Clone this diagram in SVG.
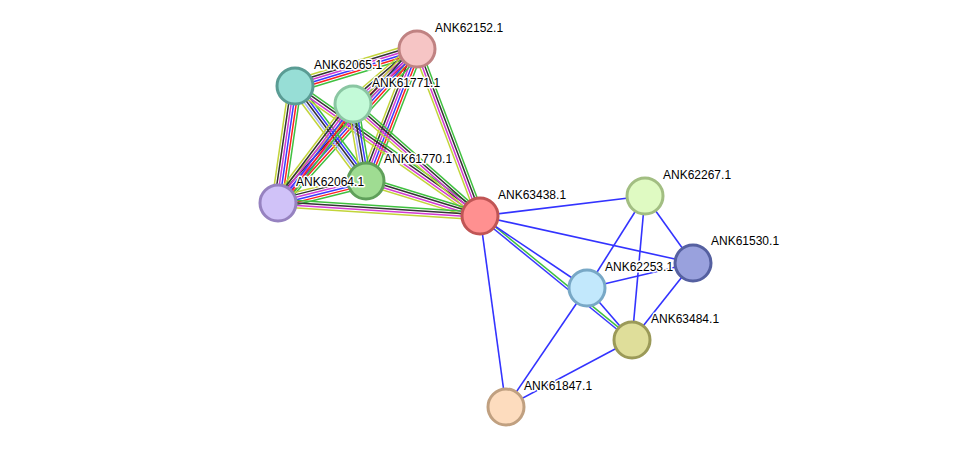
<svg xmlns="http://www.w3.org/2000/svg" width="975" height="453" viewBox="0 0 975 453">
<style>
line{stroke-width:1.5;fill:none}
.g{stroke:#3fc03f}.r{stroke:#ff2020}.b{stroke:#3a3aff}.k{stroke:#333}.m{stroke:#d23ad2}.y{stroke:#c2d43a}.lb{stroke:#a6b0ff}
.s line{stroke:#3333ff;stroke-width:1.6}
.n circle{stroke-width:3}
text{font-family:"Liberation Sans",Arial,sans-serif;font-size:12px;fill:#000;stroke:#fff;stroke-width:3;stroke-linejoin:round;paint-order:stroke}
</style>
<rect width="975" height="453" fill="#fff"/>
<g id="connectors">
<!-- 62152-62065 -->
<g transform="translate(417 49) rotate(163.13)"><line class="g" x2="127.5" y1="-6.25" y2="-6.25"/><line class="r" x2="127.5" y1="-3.75" y2="-3.75"/><line class="b" x2="127.5" y1="-1.25" y2="-1.25"/><line class="m" x2="127.5" y1="1.25" y2="1.25"/><line class="k" x2="127.5" y1="3.75" y2="3.75"/><line class="y" x2="127.5" y1="6.25" y2="6.25"/></g>
<!-- 62152-61771 -->
<g transform="translate(417 49) rotate(139.33)"><line class="g" x2="84.4" y1="-6.25" y2="-6.25"/><line class="r" x2="84.4" y1="-3.75" y2="-3.75"/><line class="b" x2="84.4" y1="-1.25" y2="-1.25"/><line class="m" x2="84.4" y1="1.25" y2="1.25"/><line class="k" x2="84.4" y1="3.75" y2="3.75"/><line class="y" x2="84.4" y1="6.25" y2="6.25"/></g>
<!-- 62152-61770 -->
<g transform="translate(417 49) rotate(111.13)"><line class="g" x2="141.5" y1="-6.25" y2="-6.25"/><line class="r" x2="141.5" y1="-3.75" y2="-3.75"/><line class="b" x2="141.5" y1="-1.25" y2="-1.25"/><line class="m" x2="141.5" y1="1.25" y2="1.25"/><line class="k" x2="141.5" y1="3.75" y2="3.75"/><line class="y" x2="141.5" y1="6.25" y2="6.25"/></g>
<!-- 62152-62064 -->
<g transform="translate(417 49) rotate(132.07)"><line class="g" x2="207.5" y1="-6.25" y2="-6.25"/><line class="r" x2="207.5" y1="-3.75" y2="-3.75"/><line class="b" x2="207.5" y1="-1.25" y2="-1.25"/><line class="m" x2="207.5" y1="1.25" y2="1.25"/><line class="k" x2="207.5" y1="3.75" y2="3.75"/><line class="y" x2="207.5" y1="6.25" y2="6.25"/></g>
<!-- 62152-63438 -->
<g transform="translate(417 49) rotate(69.33)"><line class="g" x2="178.5" y1="-3.75" y2="-3.75"/><line class="k" x2="178.5" y1="-1.25" y2="-1.25"/><line class="m" x2="178.5" y1="1.25" y2="1.25"/><line class="y" x2="178.5" y1="3.75" y2="3.75"/></g>
<!-- 62065-61770 -->
<g transform="translate(295 86) rotate(53.22)"><line class="g" x2="118.6" y1="-5" y2="-5"/><line class="b" x2="118.6" y1="-2.5" y2="-2.5"/><line class="k" x2="118.6" y1="0" y2="0"/><line class="lb" x2="118.6" y1="2.5" y2="2.5"/><line class="y" x2="118.6" y1="5" y2="5"/></g>
<!-- 62065-62064 -->
<g transform="translate(295 86) rotate(98.27)"><line class="g" x2="118.2" y1="-6.25" y2="-6.25"/><line class="r" x2="118.2" y1="-3.75" y2="-3.75"/><line class="b" x2="118.2" y1="-1.25" y2="-1.25"/><line class="m" x2="118.2" y1="1.25" y2="1.25"/><line class="k" x2="118.2" y1="3.75" y2="3.75"/><line class="y" x2="118.2" y1="6.25" y2="6.25"/></g>
<!-- 62065-63438 -->
<g transform="translate(295 86) rotate(35.1)"><line class="g" x2="226.1" y1="-3.75" y2="-3.75"/><line class="k" x2="226.1" y1="-1.25" y2="-1.25"/><line class="m" x2="226.1" y1="1.25" y2="1.25"/><line class="y" x2="226.1" y1="3.75" y2="3.75"/></g>
<!-- 61771-61770 -->
<g transform="translate(353 104) rotate(80.42)"><line class="g" x2="78.1" y1="-5" y2="-5"/><line class="b" x2="78.1" y1="-2.5" y2="-2.5"/><line class="k" x2="78.1" y1="0" y2="0"/><line class="lb" x2="78.1" y1="2.5" y2="2.5"/><line class="y" x2="78.1" y1="5" y2="5"/></g>
<!-- 61771-62064 -->
<g transform="translate(353 104) rotate(127.15)"><line class="g" x2="124.2" y1="-6.25" y2="-6.25"/><line class="r" x2="124.2" y1="-3.75" y2="-3.75"/><line class="b" x2="124.2" y1="-1.25" y2="-1.25"/><line class="m" x2="124.2" y1="1.25" y2="1.25"/><line class="k" x2="124.2" y1="3.75" y2="3.75"/><line class="y" x2="124.2" y1="6.25" y2="6.25"/></g>
<!-- 61771-63438 -->
<g transform="translate(353 104) rotate(41.41)"><line class="g" x2="169.3" y1="-3.75" y2="-3.75"/><line class="k" x2="169.3" y1="-1.25" y2="-1.25"/><line class="m" x2="169.3" y1="1.25" y2="1.25"/><line class="y" x2="169.3" y1="3.75" y2="3.75"/></g>
<!-- 61770-62064 -->
<g transform="translate(366 181) rotate(165.96)"><line class="g" x2="90.7" y1="-6.25" y2="-6.25"/><line class="r" x2="90.7" y1="-3.75" y2="-3.75"/><line class="b" x2="90.7" y1="-1.25" y2="-1.25"/><line class="m" x2="90.7" y1="1.25" y2="1.25"/><line class="k" x2="90.7" y1="3.75" y2="3.75"/><line class="y" x2="90.7" y1="6.25" y2="6.25"/></g>
<!-- 61770-63438 -->
<g transform="translate(366 181) rotate(17.07)"><line class="g" x2="119.3" y1="-3.75" y2="-3.75"/><line class="k" x2="119.3" y1="-1.25" y2="-1.25"/><line class="m" x2="119.3" y1="1.25" y2="1.25"/><line class="y" x2="119.3" y1="3.75" y2="3.75"/></g>
<!-- 62064-63438 -->
<g transform="translate(278 203) rotate(3.68)"><line class="g" x2="202.4" y1="-3.75" y2="-3.75"/><line class="k" x2="202.4" y1="-1.25" y2="-1.25"/><line class="m" x2="202.4" y1="1.25" y2="1.25"/><line class="y" x2="202.4" y1="3.75" y2="3.75"/></g>
<!-- 63438-63484 -->
<g transform="translate(480 216) rotate(39.21)"><line class="g" x2="196.2" y1="-1.25" y2="-1.25"/><line class="b" x2="196.2" y1="1.25" y2="1.25"/></g>
<g class="s">
<line x1="480" y1="216" x2="645" y2="196"/>
<line x1="480" y1="216" x2="693" y2="263"/>
<line x1="480" y1="216" x2="587" y2="288"/>
<line x1="480" y1="216" x2="506" y2="407"/>
<line x1="645" y1="196" x2="587" y2="288"/>
<line x1="645" y1="196" x2="632" y2="340"/>
<line x1="645" y1="196" x2="693" y2="263"/>
<line x1="693" y1="263" x2="587" y2="288"/>
<line x1="693" y1="263" x2="632" y2="340"/>
<line x1="587" y1="288" x2="506" y2="407"/>
<line x1="587" y1="288" x2="632" y2="340"/>
<line x1="632" y1="340" x2="506" y2="407"/>
</g>
</g>
<g id="ANK62152.1" class="n"><circle cx="417" cy="49" r="18" fill="#f6c5c5" stroke="#c08282"/><text x="435" y="32">ANK62152.1</text></g>
<g id="ANK62065.1" class="n"><circle cx="295" cy="86" r="18" fill="#97ded6" stroke="#5a9c94"/><text x="314" y="69">ANK62065.1</text></g>
<g id="ANK61771.1" class="n"><circle cx="353" cy="104" r="18" fill="#c3fad8" stroke="#8ac6a2"/><text x="372" y="87">ANK61771.1</text></g>
<g id="ANK61770.1" class="n"><circle cx="366" cy="181" r="18" fill="#9fdc92" stroke="#5fa05a"/><text x="384" y="163">ANK61770.1</text></g>
<g id="ANK62064.1" class="n"><circle cx="278" cy="203" r="18" fill="#d0c2f8" stroke="#9682c0"/><text x="296" y="186">ANK62064.1</text></g>
<g id="ANK63438.1" class="n"><circle cx="480" cy="216" r="18" fill="#ff9090" stroke="#c05555"/><text x="498" y="199">ANK63438.1</text></g>
<g id="ANK62267.1" class="n"><circle cx="645" cy="196" r="18" fill="#dffac2" stroke="#a2be82"/><text x="663" y="179">ANK62267.1</text></g>
<g id="ANK61530.1" class="n"><circle cx="693" cy="263" r="18" fill="#99a1dd" stroke="#5560a0"/><text x="711" y="245">ANK61530.1</text></g>
<g id="ANK62253.1" class="n"><circle cx="587" cy="288" r="18" fill="#c2e8fc" stroke="#78a8c6"/><text x="605" y="271">ANK62253.1</text></g>
<g id="ANK63484.1" class="n"><circle cx="632" cy="340" r="18" fill="#dfde9a" stroke="#9b9a58"/><text x="651" y="323">ANK63484.1</text></g>
<g id="ANK61847.1" class="n"><circle cx="506" cy="407" r="18" fill="#fddcbe" stroke="#c0a080"/><text x="524" y="390">ANK61847.1</text></g>
</svg>
